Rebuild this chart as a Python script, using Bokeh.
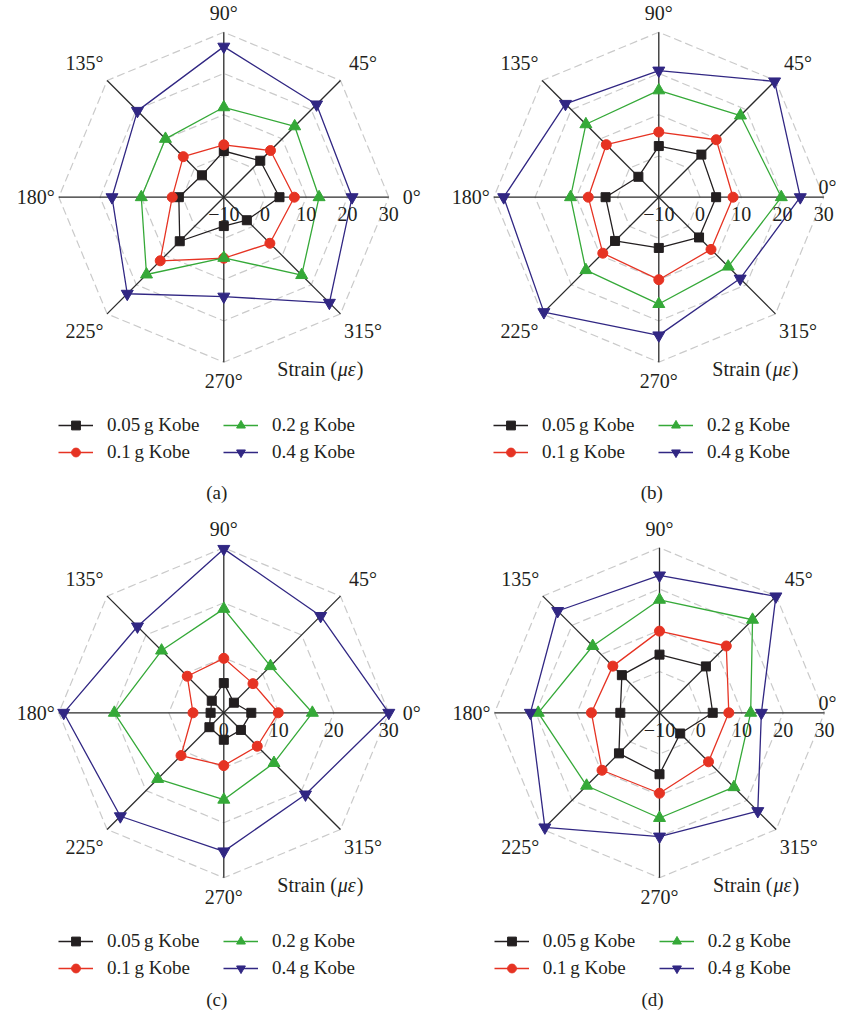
import numpy as np
from bokeh.plotting import figure
from bokeh.models import Range1d, Legend, LegendItem, ColumnDataSource
from bokeh.core.properties import value
from bokeh.embed import file_html
from bokeh.resources import INLINE

# ---------------- data ----------------
ANGLES = [0, 45, 90, 135, 180, 225, 270, 315]
ANGLE_LABELS = ["0°", "45°", "90°", "135°", "180°", "225°", "270°", "315°"]
SERIES_NAMES = ["0.05\u2009g Kobe", "0.1\u2009g Kobe", "0.2\u2009g Kobe", "0.4\u2009g Kobe"]
CAPTIONS = ["(a)", "(b)", "(c)", "(d)"]

TICKS_FULL = [-10, 0, 10, 20, 30]
TICK_LABELS_FULL = ["\u221210", "0", "10", "20", "30"]
TICKS_C = [0, 10, 20, 30]
TICK_LABELS_C = ["0", "10", "20", "30"]

A_005 = [3.5, 2.5, 1.2, -2.5, 0.9, 5.1, -3.0, -2.1]
A_01 = [7.1, 6.0, 2.7, 3.9, 2.5, 11.8, 4.8, 5.8]
A_02 = [13.1, 14.3, 11.8, 10.0, 10.0, 16.5, 4.7, 16.7]
A_04 = [21.1, 21.8, 26.5, 19.6, 17.1, 23.1, 14.1, 26.2]

B_005 = [3.9, 4.6, 2.4, -3.0, 2.9, 5.0, 2.3, 3.8]
B_01 = [8.0, 9.7, 5.8, 8.0, 7.1, 9.2, 10.0, 7.9]
B_02 = [19.7, 18.0, 15.9, 15.0, 11.4, 15.0, 15.9, 13.8]
B_04 = [24.3, 29.7, 20.7, 22.0, 27.6, 29.4, 23.5, 17.9]

C_005 = [5.0, 2.6, 5.4, 3.1, 2.4, 3.7, 4.9, 4.4]
C_01 = [9.9, 7.5, 9.9, 9.4, 5.6, 11.0, 9.6, 8.6]
C_02 = [16.1, 12.0, 18.9, 16.0, 19.9, 17.0, 15.8, 12.9]
C_04 = [30.0, 24.9, 29.8, 22.2, 29.1, 26.6, 25.2, 21.0]

D_005 = [2.9, 5.9, 4.1, 2.9, -0.5, 3.9, 4.9, -2.9]
D_01 = [6.8, 12.9, 9.8, 6.0, 6.5, 9.7, 9.5, 6.8]
D_02 = [12.1, 21.9, 17.4, 12.9, 19.4, 15.0, 15.5, 15.5]
D_04 = [14.7, 29.9, 23.3, 24.9, 21.3, 29.3, 20.0, 23.7]

# ---------------- style ----------------
W, H = 836, 1010
R = 165.0
FONT = "Liberation Serif"
FS = "20px"
FS_LEG = "19px"
TEXT = "#231f20"
COLORS = ["#231f20", "#e63323", "#35a938", "#312783"]
MARKERS = ["square", "circle", "triangle", "inverted_triangle"]
MSIZES = [9, 10, 12, 12]
GRID_COLOR = "#cacaca"
# label offsets from the centre (horizontal / vertical), per angle
LAB_RX = np.array([188, 197, 0, 197, 188, 197, 0, 197], dtype=float)
LAB_RY = np.array([0, 189.5, 184, 189.5, 0, 189.5, 184, 189.5], dtype=float)

panels = [
    dict(cx=223.3, cy=196.7, rmin=-10, ticks=TICKS_FULL, tlabels=TICK_LABELS_FULL,
         grid=[0, 10, 20, 30], data=[A_005, A_01, A_02, A_04]),
    dict(cx=658.3, cy=196.7, rmin=-10, ticks=TICKS_FULL, tlabels=TICK_LABELS_FULL,
         grid=[0, 10, 20, 30], data=[B_005, B_01, B_02, B_04]),
    dict(cx=223.3, cy=712.3, rmin=0, ticks=TICKS_C, tlabels=TICK_LABELS_C,
         grid=[10, 20, 30], data=[C_005, C_01, C_02, C_04]),
    dict(cx=659.0, cy=712.3, rmin=-10, ticks=TICKS_FULL, tlabels=TICK_LABELS_FULL,
         grid=[0, 10, 20, 30], data=[D_005, D_01, D_02, D_04]),
]

p = figure(width=W, height=H, x_range=Range1d(0, W), y_range=Range1d(H, 0),
           output_backend="svg", toolbar_location=None, min_border=0)
p.axis.visible = False
p.grid.visible = False
p.outline_line_color = None
p.background_fill_color = "white"
p.border_fill_color = "white"

th = np.deg2rad(np.array(ANGLES, dtype=float))


def radius(rmin, vals):
    return (np.asarray(vals, dtype=float) - rmin) / (30.0 - rmin) * R


def polar(cx, cy, rmin, vals):
    r = radius(rmin, vals)
    return cx + r * np.cos(th), cy - r * np.sin(th)


ROW_H = 22
LEG_SPACING = 5

for k, pn in enumerate(panels):
    cx, cy, rmin = pn["cx"], pn["cy"], pn["rmin"]
    # dashed octagon grid
    for lev in pn["grid"]:
        gx, gy = polar(cx, cy, rmin, [lev] * len(ANGLES))
        p.line(list(gx) + [gx[0]], list(gy) + [gy[0]], line_color=GRID_COLOR,
               line_width=1.2, line_dash="8 4")
    # spokes
    ox, oy = polar(cx, cy, rmin, [30] * len(ANGLES))
    p.segment(x0=[cx] * len(ANGLES), y0=[cy] * len(ANGLES), x1=ox, y1=oy,
              line_color="#2a2a2a", line_width=1.3)
    # series
    items = []
    for s, vals in enumerate(pn["data"]):
        sx, sy = polar(cx, cy, rmin, vals)
        lr = p.line(list(sx) + [sx[0]], list(sy) + [sy[0]], line_color=COLORS[s], line_width=1.3)
        mr = p.scatter(sx, sy, marker=MARKERS[s], size=MSIZES[s], fill_color=COLORS[s],
                       line_color=COLORS[s])
        items.append(LegendItem(label=SERIES_NAMES[s], renderers=[lr, mr]))
    # angle labels
    lx = cx + LAB_RX * np.cos(th)
    ly = cy - LAB_RY * np.sin(th)
    if lx[0] + 9 > W:  # keep the 0° label inside the page
        lx[0] = W - 9
        ly[0] = cy - 10
    src = ColumnDataSource(dict(x=lx, y=ly, t=ANGLE_LABELS))
    p.text(x="x", y="y", text="t", source=src, text_font=value(FONT), text_font_size=FS,
           text_color=TEXT, text_align="center", text_baseline="middle")
    # radial tick labels along 0° axis
    tx = cx + radius(rmin, pn["ticks"])
    tsrc = ColumnDataSource(dict(x=tx, y=[cy + 17] * len(tx), t=pn["tlabels"]))
    p.text(x="x", y="y", text="t", source=tsrc, text_font=value(FONT), text_font_size=FS,
           text_color=TEXT, text_align="center", text_baseline="middle")
    # axis title  Strain (με)
    ty = cy + 172
    p.text(x=[cx + 113], y=[ty], text=["Strain ("], text_font=value(FONT), text_font_size=FS,
           text_color=TEXT, text_align="right", text_baseline="middle")
    p.text(x=[cx + 114], y=[ty], text=["\u03bc\u03b5"], text_font=value(FONT), text_font_size=FS,
           text_font_style="italic", text_color=TEXT, text_align="left", text_baseline="middle")
    p.text(x=[cx + 133], y=[ty], text=[")"], text_font=value(FONT), text_font_size=FS,
           text_color=TEXT, text_align="left", text_baseline="middle")
    # caption
    cap_y = min(cy + 295, H - 11)
    p.text(x=[cx - 7], y=[cap_y], text=[CAPTIONS[k]], text_font=value(FONT), text_font_size=FS_LEG,
           text_color=TEXT, text_align="center", text_baseline="middle")
    # legend
    left = cx - 165.3
    top = cy + 228.5 - ROW_H / 2
    leg_h = ROW_H * 2 + LEG_SPACING
    legend = Legend(items=items, location=(left, H - (top + leg_h)), orientation="vertical",
                    ncols=2, padding=0, spacing=LEG_SPACING, margin=0, glyph_width=35,
                    glyph_height=ROW_H, label_height=ROW_H, label_standoff=14, label_width=111,
                    label_text_font=FONT, label_text_font_size=FS_LEG, label_text_color=TEXT,
                    label_text_baseline="middle",
                    border_line_alpha=0, background_fill_alpha=0)
    p.add_layout(legend)

open("out.html", "w").write(file_html(p, INLINE))
